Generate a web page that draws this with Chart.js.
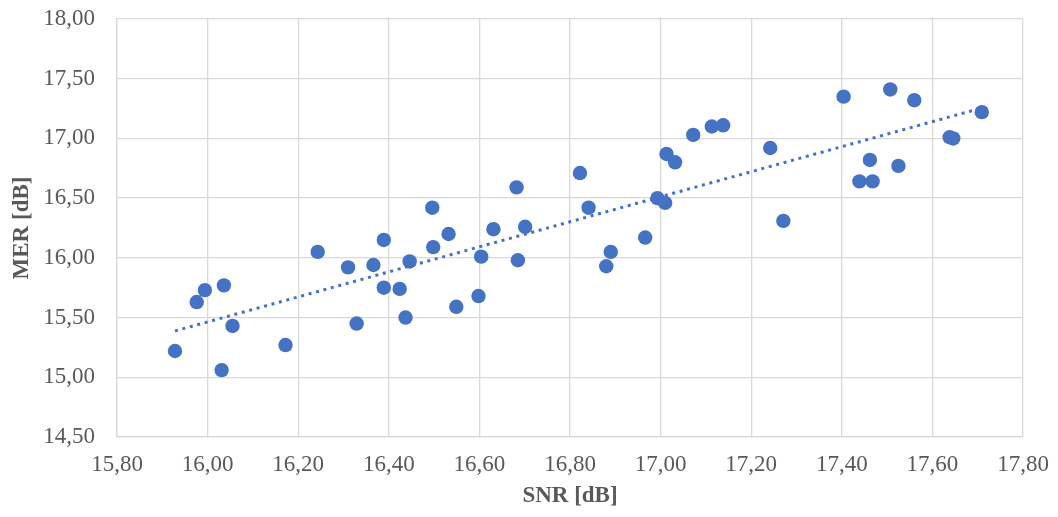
<!DOCTYPE html>
<html>
<head>
<meta charset="utf-8">
<script src="https://cdn.jsdelivr.net/npm/chart.js@4/dist/chart.umd.min.js"></script>
<style>
  html, body { margin: 0; padding: 0; background: #fff; }
  #wrap { width: 1058px; height: 517px; }
</style>
</head>
<body>
<div id="wrap"><canvas id="chart" width="1058" height="517"></canvas></div>
<script>
// measured pairs: SNR vs MER, both in dB
const snr = [
  15.928, 15.976, 15.994, 16.036, 16.031, 16.055, 16.172, 16.243, 16.310, 16.329,
  16.366, 16.389, 16.389, 16.424, 16.437, 16.446, 16.496, 16.498, 16.532, 16.549,
  16.598, 16.604, 16.631, 16.682, 16.685, 16.701, 16.822, 16.841, 16.880, 16.890,
  16.966, 16.993, 17.010, 17.013, 17.032, 17.072, 17.113, 17.138, 17.242, 17.271,
  17.404, 17.439, 17.462, 17.468, 17.507, 17.525, 17.560, 17.638, 17.646, 17.709,
];
const mer = [
  15.22, 15.63, 15.73, 15.77, 15.06, 15.43, 15.27, 16.05, 15.92, 15.45,
  15.94, 16.15, 15.75, 15.74, 15.50, 15.97, 16.42, 16.09, 16.20, 15.59,
  15.68, 16.01, 16.24, 16.59, 15.98, 16.26, 16.71, 16.42, 15.93, 16.05,
  16.17, 16.50, 16.46, 16.87, 16.80, 17.03, 17.10, 17.11, 16.92, 16.31,
  17.35, 16.64, 16.82, 16.64, 17.41, 16.77, 17.32, 17.01, 17.00, 17.22,
];

const xMin = 15.8, xMax = 17.8, xStep = 0.2;
const yMin = 14.5, yMax = 18.0, yStep = 0.5;

const blue = "#4472C4";
const grey = "#595959";
const serif = "'Liberation Serif', 'Times New Roman', serif";

// least-squares line through the points, drawn across the data range
function linearFit(xs, ys) {
  const n = xs.length;
  let sx = 0, sy = 0, sxx = 0, sxy = 0;
  for (let i = 0; i < n; i++) {
    sx += xs[i]; sy += ys[i];
    sxx += xs[i] * xs[i]; sxy += xs[i] * ys[i];
  }
  const b = (n * sxy - sx * sy) / (n * sxx - sx * sx);
  const a = (sy - b * sx) / n;
  return { a, b };
}

const fit = linearFit(snr, mer);
const x0 = Math.min(...snr), x1 = Math.max(...snr);
const trend = [
  { x: x0, y: fit.a + fit.b * x0 },
  { x: x1, y: fit.a + fit.b * x1 },
];

const fmt = (v) => Number(v).toFixed(2).replace(".", ",");

new Chart(document.getElementById("chart"), {
  type: "scatter",
  data: {
    datasets: [
      {
        type: "line",
        label: "trend",
        data: trend,
        borderColor: blue,
        borderWidth: 3,
        borderDash: [3, 4.7],
        pointRadius: 0,
        fill: false,
        order: 0,
      },
      {
        label: "MER",
        data: snr.map((x, i) => ({ x, y: mer[i] })),
        backgroundColor: blue,
        borderWidth: 0,
        pointRadius: 7.2,
        pointHoverRadius: 7.2,
        order: 1,
      },
    ],
  },
  options: {
    responsive: false,
    animation: false,
    layout: { padding: { top: 19, right: 35, left: 0, bottom: 0 } },
    plugins: { legend: { display: false }, tooltip: { enabled: false } },
    scales: {
      x: {
        type: "linear",
        min: xMin,
        max: xMax,
        ticks: {
          stepSize: xStep,
          callback: fmt,
          color: grey,
          font: { family: serif, size: 23 },
          padding: 14,
          maxRotation: 0,
        },
        grid: { color: "#d9d9d9", lineWidth: 1.3, drawTicks: false },
        border: { color: "#d9d9d9", width: 1.3 },
        title: {
          display: true,
          text: "SNR [dB]",
          color: grey,
          font: { family: serif, size: 23, weight: "bold" },
          padding: { top: 0, bottom: 7 },
        },
        afterFit: (s) => {
          s.height = 80;
          s.paddingLeft = 0;
          s.paddingRight = 0;
        },
      },
      y: {
        type: "linear",
        min: yMin,
        max: yMax,
        ticks: {
          stepSize: yStep,
          callback: fmt,
          color: grey,
          font: { family: serif, size: 23 },
          padding: 22,
        },
        grid: { color: "#d9d9d9", lineWidth: 1.3, drawTicks: false },
        border: { color: "#d9d9d9", width: 1.3 },
        title: {
          display: true,
          text: "MER [dB]",
          color: grey,
          font: { family: serif, size: 23, weight: "bold" },
          padding: { top: 8, bottom: 0 },
        },
        afterFit: (s) => {
          s.width = 117;
          s.paddingTop = 0;
          s.paddingBottom = 0;
        },
      },
    },
  },
});
</script>
</body>
</html>
